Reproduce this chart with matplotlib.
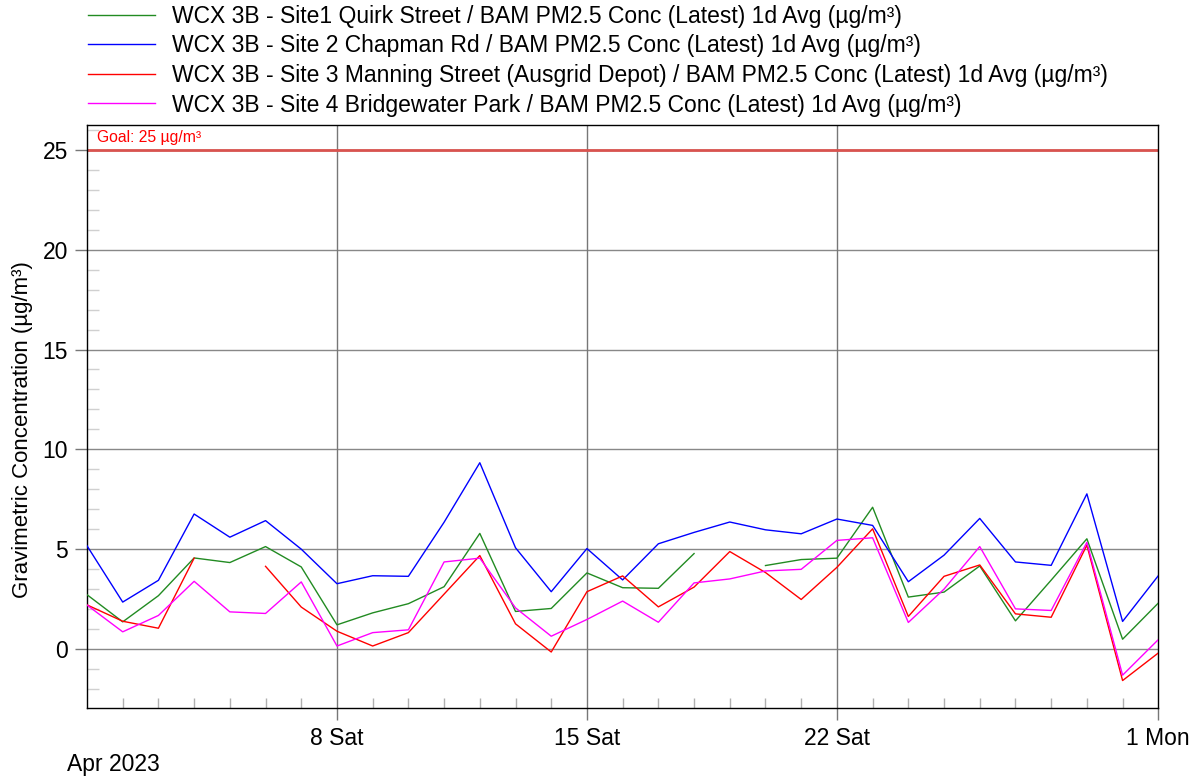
import numpy as np
import pandas as pd
import matplotlib
matplotlib.use("Agg")
import matplotlib.pyplot as plt

plt.rcParams['font.family'] = ['Liberation Sans', 'DejaVu Sans']

# daily averages, 1 Apr 2023 .. 1 May 2023
days = pd.date_range('2023-04-01', '2023-05-01', freq='D')
nan = np.nan

site1 = [2.72, 1.36, 2.67, 4.56, 4.33, 5.13, 4.11, 1.21,
         1.81, 2.27, 3.12, 5.79, 1.88, 2.03, 3.81,
         3.07, 3.04, 4.78, nan, 4.18, 4.48, 4.55,
         7.10, 2.60, 2.85, 4.16, 1.41, 3.45, 5.52, 0.49, 2.30]
site2 = [5.17, 2.35, 3.44, 6.76, 5.60, 6.43, 5.00, 3.27,
         3.67, 3.64, 6.35, 9.33, 5.07, 2.87, 5.03,
         3.46, 5.27, 5.84, 6.36, 5.97, 5.77, 6.51,
         6.19, 3.37, 4.70, 6.54, 4.36, 4.19, 7.77, 1.38, 3.67]
site3 = [2.21, 1.39, 1.04, 4.55, nan, 4.14, 2.10, 0.89,
         0.15, 0.82, 2.75, 4.68, 1.26, -0.15, 2.87,
         3.66, 2.11, 3.10, 4.88, 3.83, 2.48, 4.09,
         6.02, 1.63, 3.64, 4.21, 1.76, 1.59, 5.20, -1.58, -0.20]
site4 = [2.20, 0.86, 1.68, 3.39, 1.86, 1.78, 3.36, 0.15,
         0.82, 0.96, 4.36, 4.55, 2.06, 0.64, 1.48,
         2.40, 1.34, 3.31, 3.51, 3.91, 3.99, 5.44,
         5.57, 1.33, 3.00, 5.13, 2.01, 1.93, 5.34, -1.31, 0.47]

labels = [
    'WCX 3B - Site1 Quirk Street / BAM PM2.5 Conc (Latest) 1d Avg (µg/m³)',
    'WCX 3B - Site 2 Chapman Rd / BAM PM2.5 Conc (Latest) 1d Avg (µg/m³)',
    'WCX 3B - Site 3 Manning Street (Ausgrid Depot) / BAM PM2.5 Conc (Latest) 1d Avg (µg/m³)',
    'WCX 3B - Site 4 Bridgewater Park / BAM PM2.5 Conc (Latest) 1d Avg (µg/m³)',
]
colors = ['#228b22', '#0000ff', '#ff0000', '#ff00ff']

goal = 25
tick_dates = pd.to_datetime(['2023-04-08', '2023-04-15', '2023-04-22', '2023-05-01'])
tick_labels = ['8 Sat', '15 Sat', '22 Sat', '1 Mon']

fig = plt.figure(figsize=(11.97, 7.80), dpi=100)
ax = fig.add_axes([87 / 1197, 1 - 708.3 / 780, (1158.3 - 87) / 1197, (708.3 - 124.5) / 780])

# grid first so the series sit on top
for v in range(0, 30, 5):
    ax.axhline(v, color='#888888', lw=1, zorder=1)
for d in tick_dates[:-1]:
    ax.axvline(d, color='#777777', lw=1, zorder=1)

ax.axhline(goal, color='#d9534f', lw=2, zorder=2)
ax.text(0.009, 25.6, 'Goal: 25 µg/m³', color='red', fontsize=11.3,
        transform=ax.get_yaxis_transform(), va='center', ha='left')

for vals, lab, c in zip([site1, site2, site3, site4], labels, colors):
    ax.plot(days, vals, color=c, lw=1, label=lab, zorder=3)

ax.set_xlim(days[0], days[-1])
ax.set_ylim(-2.97, 26.27)

ax.set_yticks(range(0, 30, 5))
ax.set_yticks([v for v in range(-2, 27) if v % 5 != 0], minor=True)
ax.tick_params(axis='y', which='major', direction='out', length=8.6, width=1,
               color='#777777', labelsize=16.5, pad=5)
ax.tick_params(axis='y', which='minor', direction='in', length=8.6, width=1,
               color='#d0d0d0')

ax.set_xticks(tick_dates)
ax.set_xticklabels(tick_labels)
ax.set_xticks(days[1:-1], minor=True)
ax.tick_params(axis='x', which='major', direction='out', length=8.6, width=1,
               color='#777777', labelsize=16.5, pad=5)
ax.tick_params(axis='x', which='minor', direction='in', length=7.2, width=1,
               color='#b0b0b0')

for s in ax.spines.values():
    s.set_color('black')
    s.set_linewidth(1)

ax.set_ylabel('Gravimetric Concentration (µg/m³)', fontsize=16)
ax.yaxis.set_label_coords(-0.0505, 0.4776)
fig.text(67 / 1197, 1 - 764 / 780, 'Apr 2023', fontsize=16.5, ha='left', va='center')

fig.legend(loc='upper left', bbox_to_anchor=(83 / 1197, 1.0), frameon=False,
           fontsize=16.5, handlelength=2.95, handletextpad=0.72, labelspacing=0.29,
           borderaxespad=0.0, borderpad=0.2)

fig.savefig('out.png', dpi=100)
